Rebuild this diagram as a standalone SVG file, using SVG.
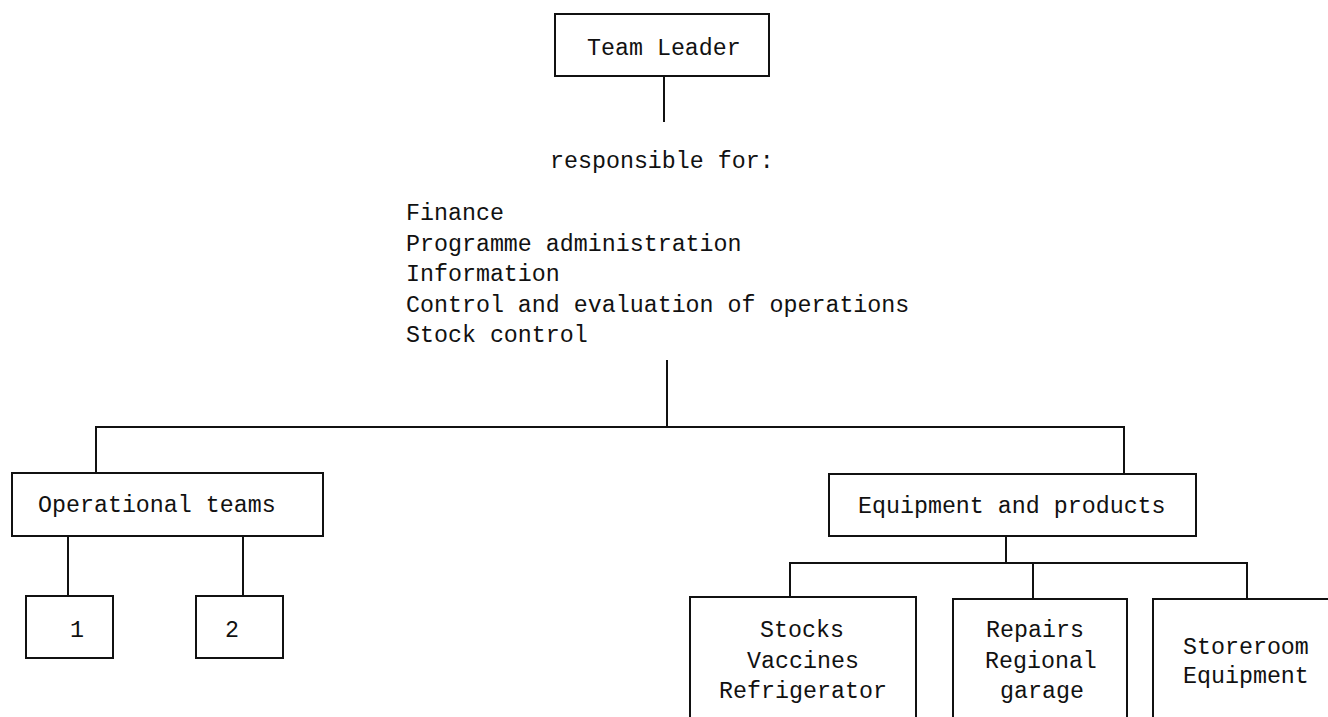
<svg xmlns="http://www.w3.org/2000/svg" width="1328" height="717" viewBox="0 0 1328 717">
<style>
  .box { fill: #ffffff; stroke: #111111; stroke-width: 2; }
  .ln { stroke: #111111; stroke-width: 2; fill: none; stroke-linecap: square; }
  text { font-family: "Liberation Mono", "DejaVu Sans Mono", monospace; font-size: 23.3px; fill: #111111; }
  .c { text-anchor: middle; }
</style>
<rect width="1328" height="717" fill="#ffffff"/>
<g id="connectors">
  <line class="ln" x1="664" y1="76" x2="664" y2="121"/>
  <line class="ln" x1="667" y1="361" x2="667" y2="427"/>
  <line class="ln" x1="96" y1="427" x2="1124" y2="427"/>
  <line class="ln" x1="96" y1="427" x2="96" y2="473"/>
  <line class="ln" x1="1124" y1="427" x2="1124" y2="474"/>
  <line class="ln" x1="68" y1="536" x2="68" y2="596"/>
  <line class="ln" x1="243" y1="536" x2="243" y2="596"/>
  <line class="ln" x1="1006" y1="536" x2="1006" y2="563"/>
  <line class="ln" x1="790" y1="563" x2="1247" y2="563"/>
  <line class="ln" x1="790" y1="563" x2="790" y2="597"/>
  <line class="ln" x1="1033" y1="563" x2="1033" y2="599"/>
  <line class="ln" x1="1247" y1="563" x2="1247" y2="599"/>
</g>
<g id="team-leader">
  <rect class="box" x="555" y="14" width="214" height="62"/>
  <text x="587" y="55">Team Leader</text>
</g>
<g id="responsible">
  <text x="550" y="168">responsible for:</text>
</g>
<g id="duties">
  <text x="406" y="220">Finance</text>
  <text x="406" y="250.5">Programme administration</text>
  <text x="406" y="281">Information</text>
  <text x="406" y="311.5">Control and evaluation of operations</text>
  <text x="406" y="342">Stock control</text>
</g>
<g id="operational-teams">
  <rect class="box" x="12" y="473" width="311" height="63"/>
  <text x="38" y="512">Operational teams</text>
</g>
<g id="team-1">
  <rect class="box" x="26" y="596" width="87" height="62"/>
  <text class="c" x="77" y="637">1</text>
</g>
<g id="team-2">
  <rect class="box" x="196" y="596" width="87" height="62"/>
  <text class="c" x="232" y="637">2</text>
</g>
<g id="equipment-products">
  <rect class="box" x="829" y="474" width="367" height="62"/>
  <text x="858" y="513">Equipment and products</text>
</g>
<g id="stocks">
  <rect class="box" x="690" y="597" width="226" height="140"/>
  <text class="c" x="802" y="637">Stocks</text>
  <text class="c" x="803" y="668">Vaccines</text>
  <text class="c" x="803" y="698">Refrigerator</text>
</g>
<g id="repairs">
  <rect class="box" x="953" y="599" width="174" height="140"/>
  <text x="986" y="637">Repairs</text>
  <text x="985" y="668">Regional</text>
  <text x="1000" y="698">garage</text>
</g>
<g id="storeroom">
  <rect class="box" x="1153" y="599" width="200" height="140"/>
  <text x="1183" y="654">Storeroom</text>
  <text x="1183" y="683">Equipment</text>
</g>
</svg>
